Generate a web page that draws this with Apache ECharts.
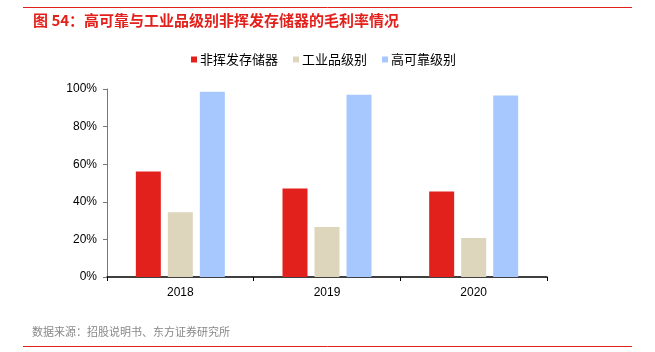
<!DOCTYPE html>
<html>
<head>
<meta charset="utf-8">
<script src="https://cdn.jsdelivr.net/npm/echarts@6/dist/echarts.min.js"></script>
<style>
  html, body { margin: 0; padding: 0; background: #fff; }
  #chart { width: 655px; height: 352px; }
</style>
</head>
<body>
<div id="chart"></div>
<script>
// 数据
const years = ['2018', '2019', '2020'];
const seriesNames = ['非挥发存储器', '工业品级别', '高可靠级别'];
const nonVolatile = [56.1, 47.1, 45.5];
const industrial = [34.4, 26.6, 20.8];
const highRel = [98.6, 97.0, 96.5];
const colors = ['#E3211C', '#DED5BD', '#A6C8FF'];

const chart = echarts.init(document.getElementById('chart'));
const cjk = '"Noto Sans CJK SC", sans-serif';
const latin = '"Liberation Sans", Arial, sans-serif';

const option = {
  animation: false,
  title: {
    text: '图 54：高可靠与工业品级别非挥发存储器的毛利率情况',
    left: 28,
    top: 8,
    textStyle: { color: '#E3211C', fontSize: 15, fontWeight: 'bold', fontFamily: cjk },
  },
  graphic: [
    { type: 'line', shape: { x1: 23, y1: 7.5, x2: 632, y2: 7.5 }, style: { stroke: '#E3211C', lineWidth: 1 } },
    { type: 'line', shape: { x1: 23, y1: 346.5, x2: 632, y2: 346.5 }, style: { stroke: '#E3211C', lineWidth: 1 } },
    {
      type: 'text', left: 32, top: 326,
      style: { text: '数据来源：招股说明书、东方证券研究所', fill: '#888', fontSize: 11, fontFamily: cjk },
    },
  ],
  legend: {
    data: seriesNames,
    left: 186,
    top: 48,
    icon: 'rect',
    itemWidth: 6,
    itemHeight: 6,
    itemGap: 15,
    textStyle: { fontSize: 13, color: '#000', fontFamily: cjk, padding: [0, 0, 0, -2] },
  },
  grid: { left: 107, right: 108, top: 89, bottom: 75 },
  xAxis: {
    type: 'category',
    data: years,
    axisLine: { lineStyle: { color: '#000', width: 1.5 } },
    axisTick: { show: true, length: 4, lineStyle: { color: '#000' } },
    axisLabel: { color: '#000', fontSize: 12, margin: 10, fontFamily: latin },
  },
  yAxis: {
    type: 'value',
    min: 0,
    max: 100,
    interval: 20,
    axisLine: { show: true, lineStyle: { color: '#777' } },
    axisTick: { show: true, length: 4, lineStyle: { color: '#777' } },
    splitLine: { show: false },
    axisLabel: { color: '#000', fontSize: 12, margin: 10, formatter: '{value}%', fontFamily: latin },
  },
  series: [
    { name: seriesNames[0], type: 'bar', data: nonVolatile, barWidth: 25, barGap: '28%', itemStyle: { color: colors[0] } },
    { name: seriesNames[1], type: 'bar', data: industrial, barWidth: 25, barGap: '28%', itemStyle: { color: colors[1] } },
    { name: seriesNames[2], type: 'bar', data: highRel, barWidth: 25, barGap: '28%', itemStyle: { color: colors[2] } },
  ],
};
chart.setOption(option);
</script>
</body>
</html>
